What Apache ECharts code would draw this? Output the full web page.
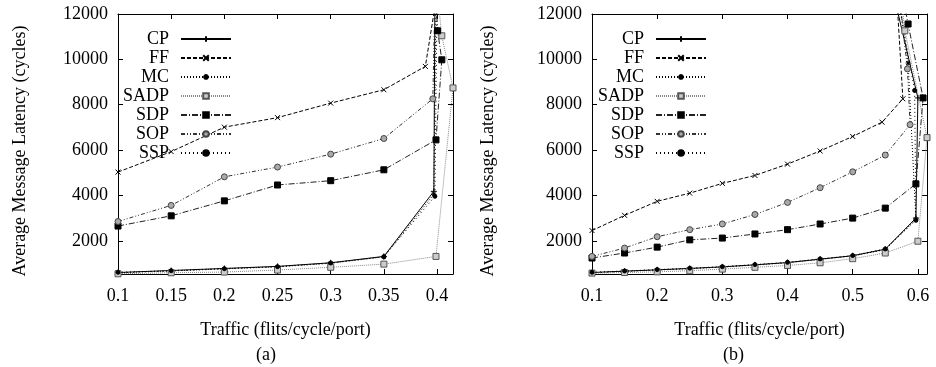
<!DOCTYPE html>
<html>
<head>
<meta charset="utf-8">
<script src="https://cdn.jsdelivr.net/npm/echarts@6/dist/echarts.min.js"></script>
<style>
  html, body { margin: 0; padding: 0; background: #fff; }
  #chart { width: 936px; height: 367px; }
</style>
</head>
<body>
<div id="chart"></div>
<script>
// ---- data: [traffic, latency] ----
// (a)
const cpA   = [[0.1, 600], [0.15, 690], [0.2, 780], [0.25, 870], [0.3, 1030], [0.35, 1310], [0.397, 4180], [0.398, 12600]];
const ffA   = [[0.1, 5030], [0.15, 5930], [0.2, 7010], [0.25, 7430], [0.3, 8070], [0.35, 8660], [0.389, 9690], [0.399, 12600]];
const mcA   = [[0.1, 590], [0.15, 670], [0.2, 760], [0.25, 850], [0.3, 1010], [0.35, 1290], [0.397, 4050], [0.399, 12600]];
const sadpA = [[0.1, 545], [0.15, 590], [0.2, 620], [0.25, 710], [0.3, 830], [0.35, 970], [0.399, 1310], [0.415, 8740], [0.4045, 11040], [0.401, 12600]];
const sdpA  = [[0.1, 2650], [0.15, 3100], [0.2, 3760], [0.25, 4460], [0.3, 4650], [0.35, 5130], [0.399, 6450], [0.4045, 9980], [0.4005, 11260], [0.399, 12600]];
const sopA  = [[0.1, 2850], [0.15, 3560], [0.2, 4820], [0.25, 5250], [0.3, 5820], [0.35, 6510], [0.396, 8260], [0.398, 12600]];
const sspA  = [[0.1, 610], [0.15, 680], [0.2, 770], [0.25, 860], [0.3, 1020], [0.35, 1300], [0.398, 3960], [0.4, 12600]];
// (b)
const cpB   = [[0.1, 600], [0.15, 660], [0.2, 720], [0.25, 780], [0.3, 850], [0.35, 940], [0.4, 1040], [0.45, 1190], [0.5, 1340], [0.55, 1630], [0.597, 3000], [0.6, 8300], [0.565, 12600]];
const ffB   = [[0.1, 2450], [0.15, 3120], [0.2, 3740], [0.25, 4100], [0.3, 4530], [0.35, 4880], [0.4, 5380], [0.45, 5960], [0.5, 6600], [0.545, 7230], [0.577, 8260], [0.568, 12600]];
const mcB   = [[0.1, 590], [0.15, 650], [0.2, 710], [0.25, 770], [0.3, 840], [0.35, 930], [0.4, 1030], [0.45, 1180], [0.5, 1330], [0.55, 1610], [0.597, 2950], [0.585, 9840], [0.572, 12600]];
const sadpB = [[0.1, 575], [0.15, 600], [0.2, 630], [0.25, 680], [0.3, 750], [0.35, 830], [0.4, 910], [0.45, 1030], [0.5, 1210], [0.55, 1460], [0.6, 1980], [0.614, 6550], [0.58, 11260], [0.575, 12600]];
const sdpB  = [[0.1, 1240], [0.15, 1460], [0.2, 1720], [0.25, 2040], [0.3, 2120], [0.35, 2300], [0.4, 2490], [0.45, 2740], [0.5, 3000], [0.55, 3440], [0.597, 4510], [0.608, 8300], [0.585, 11560], [0.578, 12600]];
const sopB  = [[0.1, 1310], [0.15, 1680], [0.2, 2180], [0.25, 2490], [0.3, 2740], [0.35, 3160], [0.4, 3690], [0.45, 4340], [0.5, 5040], [0.55, 5780], [0.588, 7120], [0.584, 9580], [0.572, 12600]];
const sspB  = [[0.1, 610], [0.15, 670], [0.2, 730], [0.25, 790], [0.3, 860], [0.35, 950], [0.4, 1050], [0.45, 1200], [0.5, 1350], [0.55, 1640], [0.597, 2900], [0.595, 8630], [0.57, 12600]];

const names  = ['CP', 'FF', 'MC', 'SADP', 'SDP', 'SOP', 'SSP'];
const xTicksA = [0.1, 0.15, 0.2, 0.25, 0.3, 0.35, 0.4];
const xTicksB = [0.1, 0.2, 0.3, 0.4, 0.5, 0.6];
const yTicks  = [2000, 4000, 6000, 8000, 10000, 12000];

const FONT = 'Liberation Serif';

// gnuplot-ish point / dash types
const styles = {
  CP:   { symbol: 'path://M0,5L10,5M5,0L5,10', size: 6, fill: 'none', stroke: '#000', line: '#000', dash: 'solid' },
  FF:   { symbol: 'path://M0,0L10,10M10,0L0,10', size: 5, fill: 'none', stroke: '#000', line: '#000', dash: [4, 2] },
  MC:   { symbol: 'path://M0,5L10,5M5,0L5,10M1.5,1.5L8.5,8.5M8.5,1.5L1.5,8.5', size: 5, fill: 'none', stroke: '#000', line: '#000', dash: [1, 2] },
  SADP: { symbol: 'rect', size: 6, fill: '#ccc', stroke: '#555', line: '#888', dash: [1, 1] },
  SDP:  { symbol: 'rect', size: 6, fill: '#000', stroke: '#000', line: '#222', dash: [6, 2, 1, 2] },
  SOP:  { symbol: 'circle', size: 6, fill: '#aaa', stroke: '#444', line: '#333', dash: [4, 2, 1, 2, 1, 2] },
  SSP:  { symbol: 'circle', size: 4, fill: '#000', stroke: '#000', line: '#000', dash: [1, 3] }
};

function mk(name, data, xi, yi) {
  const s = styles[name];
  return {
    name: name,
    type: 'line',
    xAxisIndex: xi,
    yAxisIndex: yi,
    data: data,
    symbol: s.symbol,
    symbolSize: s.size,
    showSymbol: true,
    itemStyle: { color: s.fill, borderColor: s.stroke, borderWidth: 1 },
    lineStyle: { color: s.line, width: 1, type: s.dash },
    emphasis: { disabled: true }
  };
}

const txt = { fontFamily: FONT, fontSize: 18, color: '#000' };

function xAx(grid, max, ticks, top) {
  return {
    gridIndex: grid,
    type: 'value',
    min: 0.1,
    max: max,
    position: top ? 'top' : 'bottom',
    axisLine: { onZero: false, lineStyle: { color: '#000', width: 1 } },
    axisTick: { inside: true, length: 5, customValues: ticks, lineStyle: { color: '#000' } },
    axisLabel: top ? { show: false } : Object.assign({ customValues: ticks, margin: 13, formatter: v => String(v) }, txt),
    splitLine: { show: false },
    name: top ? '' : 'Traffic (flits/cycle/port)',
    nameLocation: 'middle',
    nameGap: 47,
    nameTextStyle: txt
  };
}

function yAx(grid, right, gap) {
  return {
    gridIndex: grid,
    type: 'value',
    min: 535,
    max: 12000,
    position: right ? 'right' : 'left',
    axisLine: { onZero: false, lineStyle: { color: '#000', width: 1 } },
    axisTick: { inside: true, length: 5, customValues: yTicks, lineStyle: { color: '#000' } },
    axisLabel: right ? { show: false } : Object.assign({ customValues: yTicks, margin: 10, formatter: v => String(v) }, txt),
    splitLine: { show: false },
    name: right ? '' : 'Average Message Latency (cycles)',
    nameLocation: 'middle',
    nameGap: gap,
    nameTextStyle: Object.assign({ padding: [0, 14, 0, 0] }, txt)
  };
}

function legend(right) {
  return {
    data: names,
    orient: 'vertical',
    align: 'right',
    right: right,
    top: 25,
    itemWidth: 50,
    itemHeight: 7,
    itemGap: 1,
    selectedMode: false,
    textStyle: Object.assign({ lineHeight: 16, padding: [0, 7, 0, 0] }, txt)
  };
}

const series = [];
[cpA, ffA, mcA, sadpA, sdpA, sopA, sspA].forEach((d, i) => series.push(mk(names[i], d, 0, 0)));
[cpB, ffB, mcB, sadpB, sdpB, sopB, sspB].forEach((d, i) => series.push(mk(names[i], d, 2, 2)));

const chart = echarts.init(document.getElementById('chart'), null, { renderer: 'canvas' });
chart.setOption({
  animation: false,
  backgroundColor: '#fff',
  grid: [
    { left: 118, top: 14, right: 483, bottom: 93, containLabel: false, outerBoundsMode: 'none' },
    { left: 592, top: 14, right: 9, bottom: 93, containLabel: false, outerBoundsMode: 'none' }
  ],
  xAxis: [xAx(0, 0.415, xTicksA, false), xAx(0, 0.415, xTicksA, true), xAx(1, 0.614, xTicksB, false), xAx(1, 0.614, xTicksB, true)],
  yAxis: [yAx(0, false, 89), yAx(0, true, 0), yAx(1, false, 95), yAx(1, true, 0)],
  legend: [legend(699), legend(224)],
  graphic: [
    { type: 'text', left: 256, top: 346, style: { text: '(a)', font: '18px "Liberation Serif"', fill: '#000' } },
    { type: 'text', left: 723, top: 346, style: { text: '(b)', font: '18px "Liberation Serif"', fill: '#000' } }
  ],
  series: series
});
</script>
</body>
</html>
